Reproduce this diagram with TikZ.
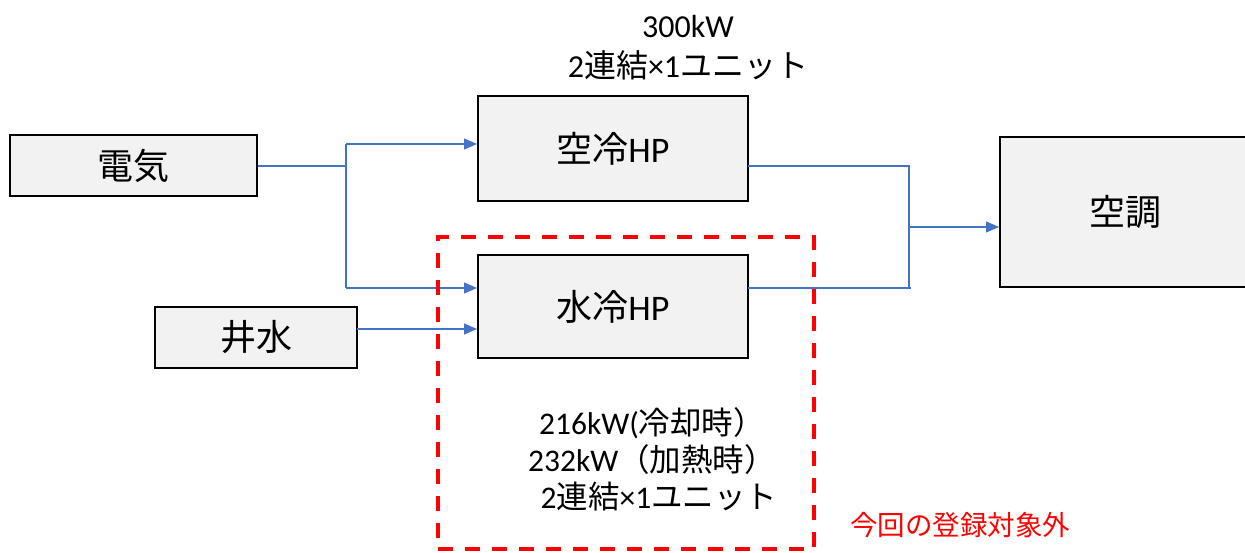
\documentclass[tikz,border=0pt]{standalone}
\usepackage{fontspec}
\setmainfont{Carlito}
\newfontfamily\jp{Noto Sans CJK JP}
\usetikzlibrary{arrows.meta}
\definecolor{boxfill}{HTML}{F2F2F2}
\definecolor{conncol}{HTML}{4472C4}
\definecolor{noteRed}{HTML}{FF0000}
\tikzset{
  box/.style={draw=black, line width=2pt, fill=boxfill, inner sep=0pt},
  conn/.style={draw=conncol, line width=1.2pt},
  arr/.style={conn, -{Triangle[length=13pt,width=11pt]}},
  reddash/.style={draw=noteRed, line width=4pt, dash pattern=on 15pt off 12pt},
  lbl/.style={font=\fontsize{36}{42}\selectfont},
  info/.style={align=center, inner sep=0pt}
}
\begin{document}
\begin{tikzpicture}[x=1pt,y=-1pt]
\useasboundingbox (0,0) rectangle (1245,553);
\clip (0,0) rectangle (1245,553);
\fill[white] (0,0) rectangle (1245,553);

% boxes
\node[box, lbl, minimum width=247pt, minimum height=61pt] (denki) at (133.5,165.5) {\jp 電気};
\node[box, lbl, minimum width=202pt, minimum height=61pt] (ido) at (256,337.5) {\jp 井水};
\node[box, lbl, minimum width=270pt, minimum height=105pt] (kurei) at (613,148.5) {{\jp 空冷}HP};
\node[box, lbl, minimum width=270pt, minimum height=103pt] (suirei) at (613,306.5) {{\jp 水冷}HP};
\node[box, lbl, minimum width=250pt, minimum height=150pt] (kucho) at (1125,212) {\jp 空調};

% junction coordinates
\coordinate (jA) at (346,166);
\coordinate (jAtop) at (346,144);
\coordinate (jAbot) at (346,288);
\coordinate (w) at (357,329);
\coordinate (kout) at (748,166);
\coordinate (sout) at (748,288);
\coordinate (jB) at (909,166);
\coordinate (jBbot) at (909,288);
\coordinate (jBmid) at (909,227);

% connectors
\draw[conn] (denki.east |- jA) -- (jA);
\draw[conn] (jAtop) -- (jAbot);
\draw[arr] (jAtop) -- (jAtop -| kurei.west);
\draw[arr] (jAbot) -- (jAbot -| suirei.west);
\draw[arr] (w) -- (w -| suirei.west);
\draw[conn] (kout) -- (jB) -- (jBbot);
\draw[conn] (sout) -- ([xshift=2pt]jBbot);
\draw[arr] (jBmid) -- (jBmid -| kucho.west);

% dashed scope
\node[reddash, minimum width=376pt, minimum height=312pt, inner sep=0pt] (scope) at (626,393) {};

% texts
\node[info, font=\fontsize{32}{40}\selectfont] (top) at (688,48) {300kW\\[0pt]2{\jp 連結}×1{\jp ユニット}};
\node[info, font=\fontsize{31.5}{37}\selectfont] (spec) at (652,459) {216kW({\jp 冷却時）}\\232kW{\jp （加熱時）}\\\hspace*{14pt}2{\jp 連結}×1{\jp ユニット}};
\node[text=noteRed, inner sep=0pt, font=\fontsize{27.5}{32}\selectfont] (note) at (960,525) {\jp 今回の登録対象外};
\end{tikzpicture}
\end{document}
